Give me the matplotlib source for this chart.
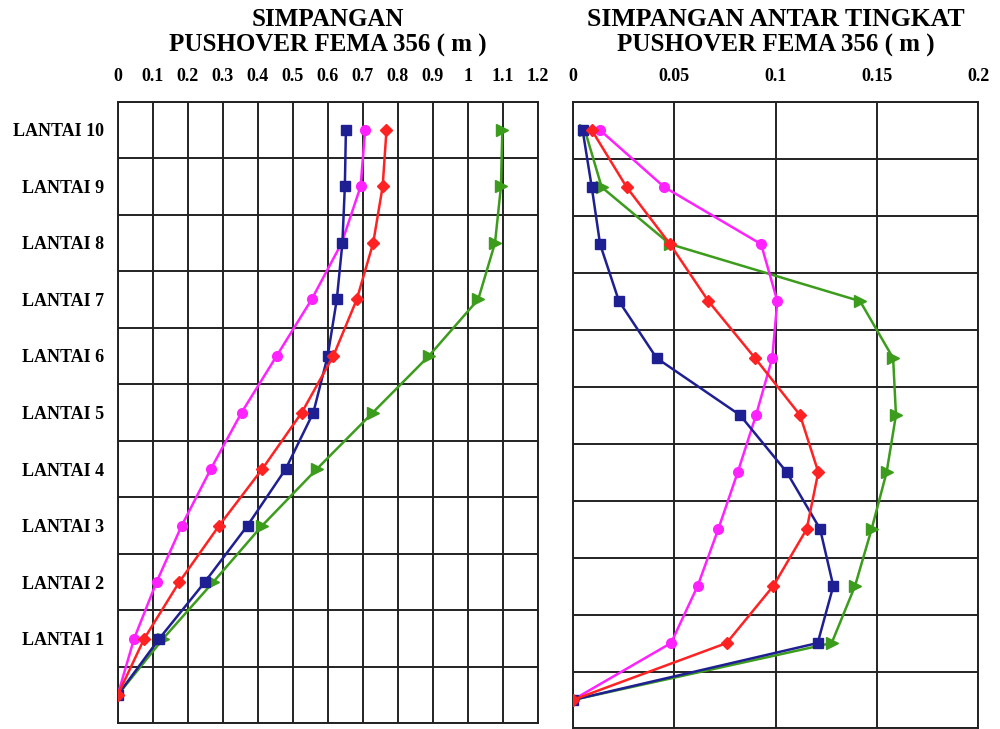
import matplotlib
matplotlib.use('Agg')
import matplotlib.pyplot as plt
import numpy as np

# lantai 0 (base) .. lantai 10
levels = [0, 1, 2, 3, 4, 5, 6, 7, 8, 9, 10]
level_labels = ['', 'LANTAI 1', 'LANTAI 2', 'LANTAI 3', 'LANTAI 4', 'LANTAI 5',
                'LANTAI 6', 'LANTAI 7', 'LANTAI 8', 'LANTAI 9', 'LANTAI 10']

# simpangan (m)
disp_blue = [0, 0.119, 0.249, 0.371, 0.480, 0.559, 0.600, 0.626, 0.642, 0.649, 0.652]
disp_magenta = [0, 0.047, 0.111, 0.183, 0.266, 0.354, 0.454, 0.554, 0.640, 0.694, 0.707]
disp_red = [0, 0.076, 0.176, 0.290, 0.413, 0.526, 0.616, 0.683, 0.730, 0.757, 0.768]
disp_green = [0, 0.130, 0.273, 0.413, 0.569, 0.729, 0.889, 1.030, 1.078, 1.095, 1.099]

# simpangan antar tingkat (m)
drift_blue = [0, 0.1208, 0.1285, 0.1220, 0.1055, 0.0825, 0.0414, 0.0228, 0.0135, 0.0094, 0.0049]
drift_magenta = [0, 0.0485, 0.0616, 0.0718, 0.0814, 0.0904, 0.0984, 0.1009, 0.0929, 0.0452, 0.0135]
drift_red = [0, 0.0759, 0.0989, 0.1154, 0.1211, 0.1121, 0.0899, 0.0669, 0.0480, 0.0266, 0.0094]
drift_green = [0, 0.1277, 0.1392, 0.1474, 0.1548, 0.1594, 0.1580, 0.1417, 0.0480, 0.0143, 0.0060]

left_ticks = [0, 0.1, 0.2, 0.3, 0.4, 0.5, 0.6, 0.7, 0.8, 0.9, 1, 1.1, 1.2]
left_ticklabels = ['0', '0.1', '0.2', '0.3', '0.4', '0.5', '0.6', '0.7', '0.8', '0.9', '1', '1.1', '1.2']
right_ticks = [0, 0.05, 0.1, 0.15, 0.2]
right_ticklabels = ['0', '0.05', '0.1', '0.15', '0.2']

blue = '#1f1f94'
magenta = '#ff22ff'
red = '#ff2222'
green = '#3c9c1c'
gridc = '#222222'
font = 'Liberation Serif'

fig = plt.figure(figsize=(10, 7.29), dpi=100)
ax1 = fig.add_axes([0.1177, 0.0078, 0.42, 0.8527])
ax2 = fig.add_axes([0.5727, 0.0007, 0.4056, 0.8598])


def draw(ax, b, m, r, g):
    ax.plot(g, levels, color=green, lw=1.8, marker='>', ms=8, zorder=3)
    ax.plot(m, levels, color=magenta, lw=1.8, marker='o', ms=7, zorder=4)
    ax.plot(b, levels, color=blue, lw=1.8, marker='s', ms=7.5, zorder=5)
    ax.plot(r, levels, color=red, lw=1.8, marker='D', ms=6, zorder=6)


draw(ax1, disp_blue, disp_magenta, disp_red, disp_green)
draw(ax2, drift_blue, drift_magenta, drift_red, drift_green)

for ax, xt, xl, xmax in [(ax1, left_ticks, left_ticklabels, 1.2),
                         (ax2, right_ticks, right_ticklabels, 0.2)]:
    ax.set_xlim(0, xmax)
    ax.set_ylim(-0.5, 10.5)
    ax.xaxis.tick_top()
    ax.set_xticks(xt)
    ax.set_xticklabels(xl, fontfamily=font, fontweight='bold', fontsize=13)
    ax.tick_params(axis='x', length=0, pad=12)
    ax.set_yticks(np.arange(-0.5, 11, 1), minor=True)
    ax.grid(True, axis='x', which='major', color=gridc, lw=1.4)
    ax.grid(True, axis='y', which='minor', color=gridc, lw=1.4)
    ax.tick_params(axis='y', which='minor', length=0)
    for s in ax.spines.values():
        s.set_color(gridc)
        s.set_linewidth(1.4)
    ax.set_axisbelow(True)

ax1.set_yticks(levels)
ax1.set_yticklabels(level_labels, fontfamily=font, fontweight='bold', fontsize=13)
ax1.tick_params(axis='y', which='major', length=0, pad=10)
ax2.set_yticks([])

fig.text(0.3277, 0.973, 'SIMPANGAN', ha='center', va='center',
         fontfamily=font, fontweight='bold', fontsize=18)
fig.text(0.3277, 0.938, 'PUSHOVER FEMA 356 ( m )', ha='center', va='center',
         fontfamily=font, fontweight='bold', fontsize=18)
fig.text(0.7755, 0.973, 'SIMPANGAN ANTAR TINGKAT', ha='center', va='center',
         fontfamily=font, fontweight='bold', fontsize=18.5)
fig.text(0.7755, 0.938, 'PUSHOVER FEMA 356 ( m )', ha='center', va='center',
         fontfamily=font, fontweight='bold', fontsize=18)

fig.savefig('out.png', dpi=100)
